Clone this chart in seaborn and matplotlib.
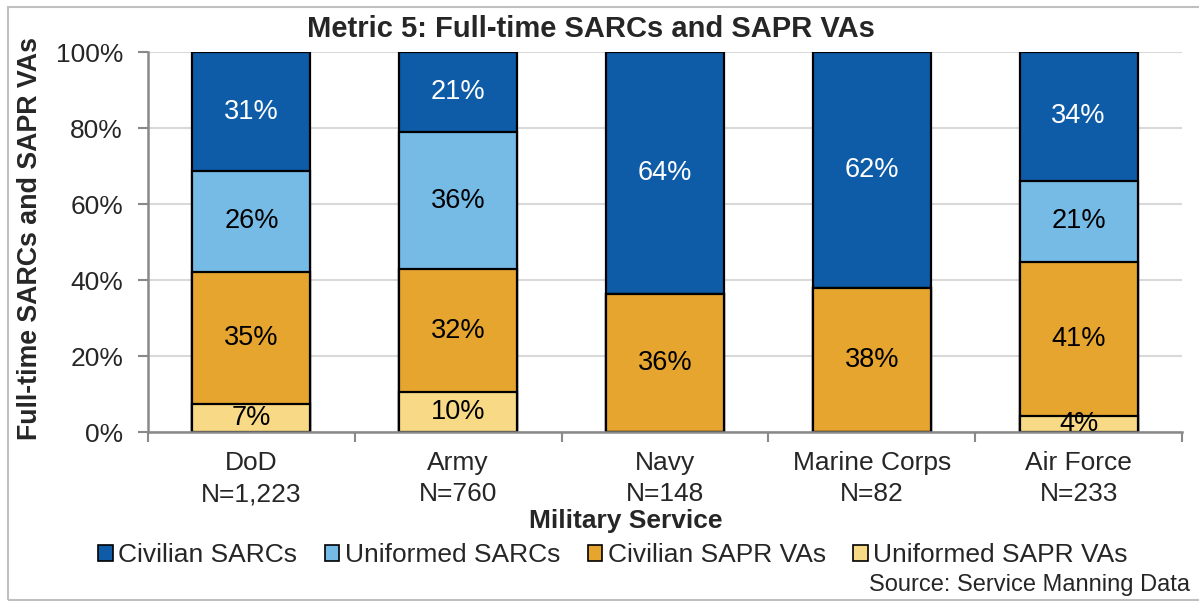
import matplotlib
matplotlib.use("Agg")
import matplotlib.pyplot as plt
from matplotlib.patches import Patch, Rectangle
import numpy as np
import pandas as pd
import seaborn as sns

# ---- data ----
services = ["DoD\nN=1,223", "Army\nN=760", "Navy\nN=148", "Marine Corps\nN=82", "Air Force\nN=233"]
uniformed_sapr_vas = [7.4, 10.4, 0.0, 0.0, 4.2]
civilian_sapr_vas = [34.8, 32.4, 36.4, 37.9, 40.6]
uniformed_sarcs = [26.4, 36.1, 0.0, 0.0, 21.3]
civilian_sarcs = [31.4, 21.1, 63.6, 62.1, 33.9]
series_names = ["Uniformed SAPR VAs", "Civilian SAPR VAs", "Uniformed SARCs", "Civilian SARCs"]
yticks = [0, 20, 40, 60, 80, 100]

colors = {
    "Civilian SARCs": "#0E5CA8",
    "Uniformed SARCs": "#76BAE6",
    "Civilian SAPR VAs": "#E5A52E",
    "Uniformed SAPR VAs": "#F8D985",
}
text_colors = {
    "Civilian SARCs": "white",
    "Uniformed SARCs": "black",
    "Civilian SAPR VAs": "black",
    "Uniformed SAPR VAs": "black",
}

sns.set_theme(style="white")
plt.rcParams["font.family"] = ["Liberation Sans", "DejaVu Sans"]

fig = plt.figure(figsize=(11.99, 6.01), dpi=100)
ax = fig.add_axes([148 / 1199, 1 - 432 / 601, (1182 - 148) / 1199, (432 - 52) / 601])

series_vals = [uniformed_sapr_vas, civilian_sapr_vas, uniformed_sarcs, civilian_sarcs]
df = pd.DataFrame({"service": services})
cum = np.zeros(len(services))
for name, vals in zip(series_names, series_vals):
    cum = cum + np.array(vals)
    df[name] = cum.copy()

# draw from largest cumulative (top) to smallest
for name in reversed(series_names):
    sns.barplot(data=df, x="service", y=name, color=colors[name], order=services,
                width=0.57, edgecolor="black", linewidth=1.6, errorbar=None,
                saturation=1, ax=ax, zorder=2)

# segment labels
for i in range(len(services)):
    bottom = 0.0
    for name, vals in zip(series_names, series_vals):
        v = vals[i]
        if v > 0:
            ax.text(i, bottom + v / 2, f"{round(v)}%", ha="center", va="center",
                    fontsize=19.5, color=text_colors[name], zorder=3)
        bottom += v

ax.set_xlim(-0.5, len(services) - 0.5)
ax.set_ylim(0, 100)
ax.set_yticks(yticks)
ax.set_yticklabels([f"{t}%" for t in yticks], fontsize=19)
ax.set_xticks(range(len(services)))
ax.set_xticklabels(services, fontsize=19, linespacing=1.35)
ax.set_xticks(np.arange(-0.5, len(services), 1.0), minor=True)
ax.tick_params(axis="x", which="major", length=0, pad=14)
ax.tick_params(axis="x", which="minor", length=7, width=1.5, color="#898989", direction="out", bottom=True)
ax.tick_params(axis="y", which="major", length=7, width=1.5, color="#898989", direction="out", left=True, pad=11)
ax.set_xlabel("")
ax.set_ylabel("")
ax.grid(axis="y", color="#D9D9D9", linewidth=1.5, zorder=0)
ax.set_axisbelow(True)
for s in ["top", "right"]:
    ax.spines[s].set_visible(False)
for s in ["left", "bottom"]:
    ax.spines[s].set_color("#898989")
    ax.spines[s].set_linewidth(1.8)
    ax.spines[s].set_zorder(4)

fig.text(591 / 1199, 1 - 29 / 601, "Metric 5: Full-time SARCs and SAPR VAs", ha="center", va="center",
         fontsize=21, fontweight="bold")
fig.text(30 / 1199, 1 - 238 / 601, "Full-time SARCs and SAPR VAs", ha="center", va="center",
         rotation=90, fontsize=19.3, fontweight="bold")
fig.text(626 / 1199, 1 - 521 / 601, "Military Service", ha="center", va="center",
         fontsize=19, fontweight="bold")
fig.text(1190 / 1199, 1 - 585 / 601, "Source: Service Manning Data", ha="right", va="center", fontsize=17)

legend_order = ["Civilian SARCs", "Uniformed SARCs", "Civilian SAPR VAs", "Uniformed SAPR VAs"]
handles = [Patch(facecolor=colors[n], edgecolor="black", linewidth=1.2, label=n) for n in legend_order]
fig.legend(handles=handles, loc="center", bbox_to_anchor=(613 / 1199, 1 - 555 / 601), ncol=4,
           frameon=False, fontsize=19, handlelength=0.55, handleheight=0.55, handletextpad=0.2,
           columnspacing=1.05, borderaxespad=0)

fig.patches.append(Rectangle((8 / 1199, 1 - 600 / 601), 1.1, (600 - 7) / 601, transform=fig.transFigure,
                             fill=False, edgecolor="#BFBFBF", linewidth=1.5, zorder=0))

fig.savefig("out.png", dpi=100)
